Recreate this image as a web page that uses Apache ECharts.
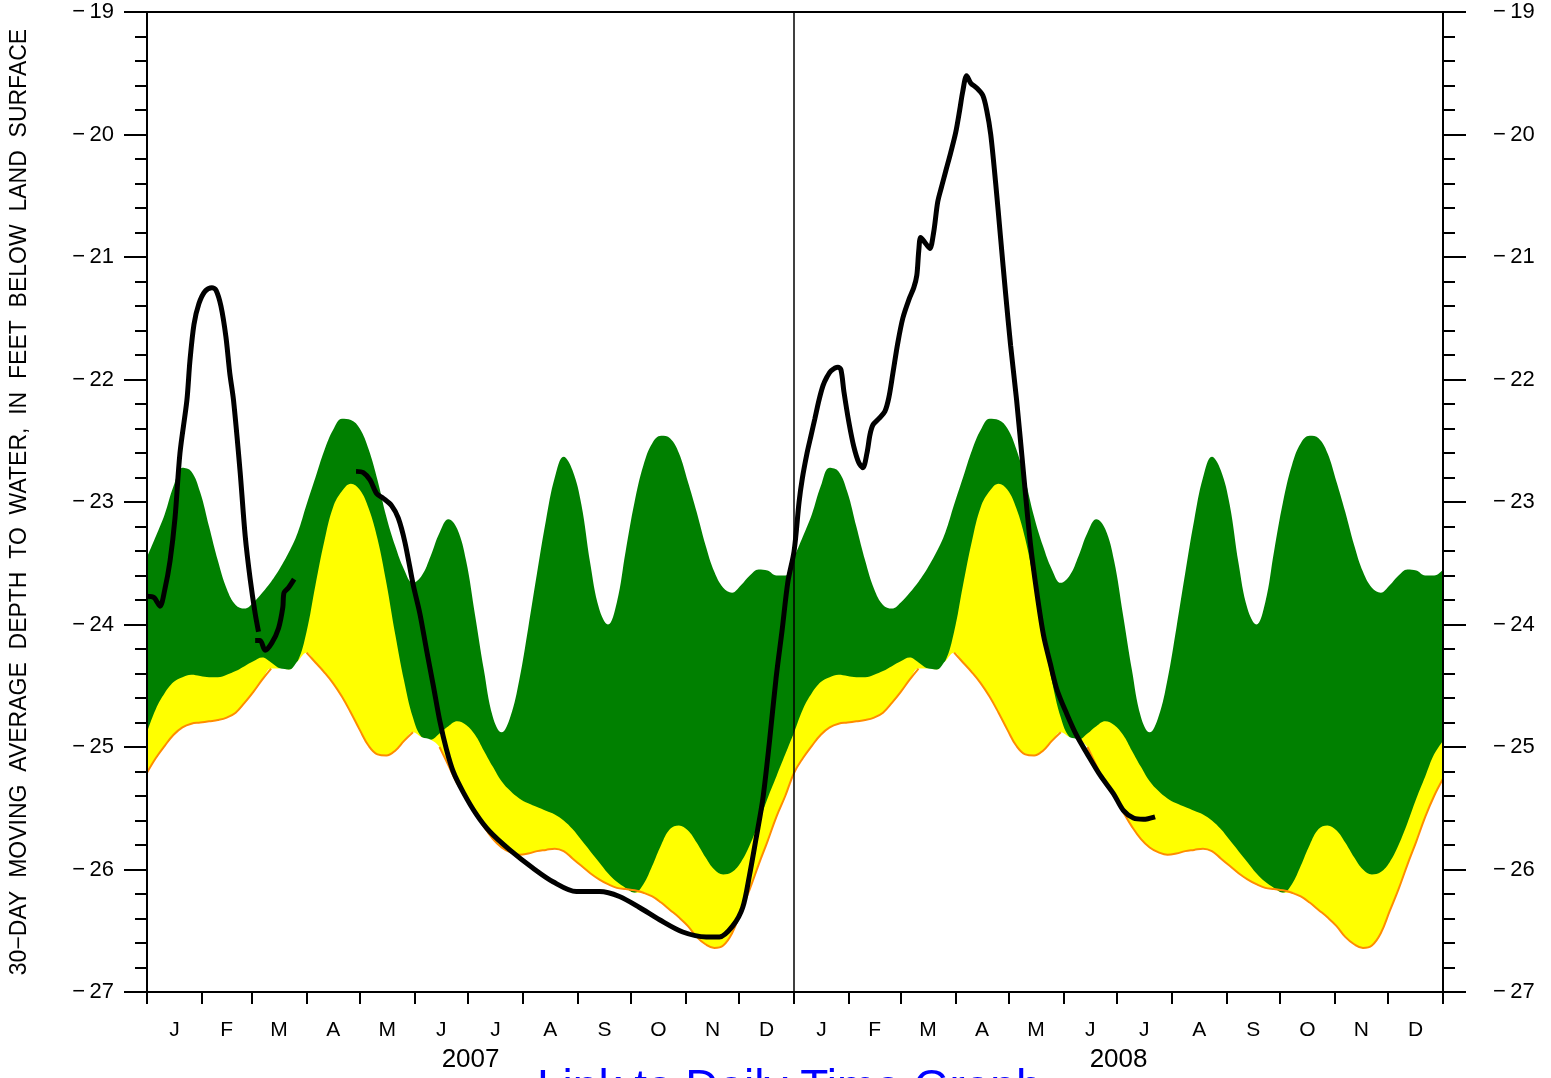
<!DOCTYPE html>
<html>
<head>
<meta charset="utf-8">
<script src="https://cdn.jsdelivr.net/npm/echarts@6/dist/echarts.min.js"></script>
<style>
  html, body { margin: 0; padding: 0; background: #fff; }
  #chart { width: 1551px; height: 1078px; }
</style>
</head>
<body>
<div id="chart"></div>
<script>
// Percentile envelope by day of year (same climatology drawn for 2007 and 2008).
const bandDays = [0, 5, 10, 15, 20, 25, 30, 35, 40, 45, 50, 55, 60, 65, 70, 75, 80, 85, 90, 95,
  100, 105, 110, 115, 120, 125, 130, 135, 140, 145, 150, 155, 160, 165, 170, 175, 180, 185, 190, 195,
  200, 205, 210, 215, 220, 225, 230, 235, 240, 245, 250, 255, 260, 265, 270, 275, 280, 285, 290, 295,
  300, 305, 310, 315, 320, 325, 330, 335, 340, 345, 350, 355, 360, 365];

// bottom of the yellow band (orange edge)
const bandLow = [-25.21, -25.09, -24.99, -24.90, -24.84, -24.81, -24.80, -24.79, -24.78, -24.76,
  -24.72, -24.64, -24.55, -24.45, -24.36, -24.29, -24.25, -24.22, -24.23, -24.31,
  -24.39, -24.48, -24.59, -24.72, -24.86, -24.99, -25.06, -25.07, -25.03, -24.95,
  -24.88, -24.87, -24.90, -25.00, -25.15, -25.30, -25.40, -25.53, -25.65, -25.75,
  -25.82, -25.86, -25.88, -25.87, -25.85, -25.84, -25.83, -25.85, -25.91, -25.97,
  -26.03, -26.08, -26.12, -26.15, -26.16, -26.17, -26.19, -26.22, -26.27, -26.33,
  -26.39, -26.46, -26.55, -26.61, -26.64, -26.62, -26.52, -26.34, -26.16, -25.96,
  -25.77, -25.57, -25.40, -25.26];

// top of the yellow band / bottom of the green band
const bandMid = [-24.88, -24.69, -24.56, -24.47, -24.43, -24.41, -24.42, -24.43, -24.43, -24.41,
  -24.38, -24.34, -24.30, -24.27, -24.31, -24.36, -24.37, -24.30, -24.06, -23.68,
  -23.32, -23.04, -22.91, -22.85, -22.90, -23.05, -23.30, -23.66, -24.08, -24.46,
  -24.76, -24.92, -24.94, -24.89, -24.83, -24.79, -24.82, -24.90, -25.03, -25.16,
  -25.28, -25.36, -25.42, -25.46, -25.49, -25.52, -25.55, -25.60, -25.67, -25.76,
  -25.85, -25.94, -26.03, -26.10, -26.15, -26.19, -26.12, -25.97, -25.80, -25.67,
  -25.64, -25.68, -25.78, -25.90, -26.00, -26.04, -26.02, -25.94, -25.80, -25.62,
  -25.42, -25.24, -25.06, -24.95];

// top of the green band
const bandHigh = [-23.45, -23.28, -23.10, -22.87, -22.72, -22.75, -22.92, -23.20, -23.48, -23.71,
  -23.84, -23.87, -23.82, -23.74, -23.65, -23.54, -23.41, -23.25, -23.02, -22.80,
  -22.58, -22.41, -22.32, -22.33, -22.40, -22.57, -22.82, -23.12, -23.36, -23.55,
  -23.66, -23.60, -23.44, -23.25, -23.14, -23.22, -23.48, -23.92, -24.37, -24.75,
  -24.88, -24.75, -24.45, -24.03, -23.58, -23.15, -22.80, -22.63, -22.74, -23.02,
  -23.50, -23.87, -24.00, -23.82, -23.40, -23.00, -22.70, -22.52, -22.46, -22.48,
  -22.60, -22.83, -23.08, -23.35, -23.57, -23.70, -23.74, -23.68, -23.60, -23.55,
  -23.56, -23.60, -23.60, -23.55];

// 30-day moving average, days since 2007-01-01 (null = gap in record)
const obsDay = [0, 3.9, 7.3, 10.1, 13.0, 15.8, 18.6, 22.5, 24.2, 26.5, 29.3, 32.7, 36.6, 38.9,
  41.7, 44.5, 46.7, 48.8, 52.5, 55.4, 58.2, 61.0, 62.9, 62.9,
  61.0, 63.8, 66.6, 70.4, 74.2, 76.6, 77.3, 79.8, 83.0, 83.0,
  117.9, 122.0, 125.8, 129.5, 133.3, 138.0, 141.7, 145.5, 150.2, 153.9, 157.7, 161.5, 165.2,
  168.9, 172.7, 178.4, 185.8, 193.3, 204.6, 217.8, 229.0, 242.2, 255.3, 266.5, 277.8, 289.1,
  302.2, 315.4, 322.9, 330.4, 336.0, 339.8, 343.5, 347.3, 351.0, 354.8, 358.2, 361.5, 365.0,
  367.8, 369.6, 372.3, 374.5, 376.7, 379.0, 381.3, 383.5, 385.8, 389.7, 391.4, 393.1, 395.9,
  398.7, 401.5, 403.8, 406.1, 407.8, 409.5, 412.8, 416.2, 418.4, 420.7, 423.5, 426.3, 429.7,
  432.5, 434.2, 435.3, 436.4, 438.7, 441.5, 443.7, 446.0, 448.3, 450.5, 453.3, 456.2, 458.4,
  460.1, 462.3, 464.6, 468.0, 471.4, 473.6, 475.9, 478.7, 481.5, 484.3, 487.1, 490.5, 494.3,
  498.2, 501.9, 505.7, 509.5, 513.2, 518.8, 524.5, 530.1, 537.6, 545.1, 550.8, 556.4, 562.0, 568.6];
const obsLevel = [-23.77, -23.78, -23.85, -23.71, -23.48, -23.13, -22.60, -22.17, -21.85, -21.55,
  -21.38, -21.28, -21.25, -21.27, -21.40, -21.65, -21.95, -22.17, -22.75, -23.28, -23.63, -23.91,
  -24.06, null,
  -24.13, -24.13, -24.21, -24.15, -24.03, -23.86, -23.74, -23.70, -23.63, null,
  -22.75, -22.76, -22.82, -22.93, -22.97, -23.03, -23.13, -23.33, -23.68, -23.91, -24.21, -24.50,
  -24.79, -25.02, -25.20, -25.37, -25.55, -25.69, -25.84, -25.99, -26.10, -26.18, -26.18, -26.22,
  -26.31, -26.41, -26.51, -26.55, -26.55, -26.46, -26.31, -26.05, -25.75, -25.43, -24.97, -24.44,
  -24.05, -23.65, -23.40, -23.00, -22.81, -22.60, -22.46, -22.32, -22.17, -22.05, -21.98, -21.93,
  -21.90, -21.92, -22.10, -22.35, -22.55, -22.68, -22.72, -22.60, -22.45, -22.37, -22.32, -22.26,
  -22.15, -21.95, -21.70, -21.50, -21.35, -21.25, -21.15, -20.95, -20.84, -20.88, -20.93, -20.80,
  -20.55, -20.42, -20.30, -20.15, -19.98, -19.80, -19.65, -19.52, -19.58, -19.62, -19.68, -19.80,
  -20.00, -20.40, -20.85, -21.30, -21.72, -22.17, -22.75, -23.33, -23.74, -24.09, -24.32, -24.53,
  -24.73, -24.91, -25.05, -25.23, -25.38, -25.52, -25.58, -25.59, -25.57];

const monthLetters = ['J', 'F', 'M', 'A', 'M', 'J', 'J', 'A', 'S', 'O', 'N', 'D'];
const monthStarts2007 = [0, 31, 59, 90, 120, 151, 181, 212, 243, 273, 304, 334, 365];
const monthStarts2008 = [0, 31, 60, 91, 121, 152, 182, 213, 244, 274, 305, 335, 366];
const years = ['2007', '2008'];
const yearStart = [0, 365];
const yearLength = [365, 366];

const axisTitle = '30\u2212DAY  MOVING  AVERAGE  DEPTH  TO  WATER,  IN  FEET  BELOW  LAND  SURFACE';
const linkText = 'Link to Daily Time Graph';

// Month boundary ticks and mid-month label positions on the day scale.
const tickDays = [];
const labelDays = [];
const labelText = {};
[monthStarts2007, monthStarts2008].forEach((starts, yi) => {
  starts.forEach((s, i) => {
    const day = yearStart[yi] + s;
    if (!tickDays.includes(day)) tickDays.push(day);
    if (i < 12) {
      const mid = yearStart[yi] + (s + starts[i + 1]) / 2;
      labelDays.push(mid);
      labelText[mid] = monthLetters[i];
    }
  });
});
const yearLabelDays = yearStart.map((s, i) => s + yearLength[i] / 2);
const yearText = {};
yearLabelDays.forEach((d, i) => { yearText[d] = years[i]; });

// Repeat the climatology across both years. Bands are painted top-down:
// green to the bottom, yellow over it, then a white mask below the lowest edge.
const greenTop = [], yellowTop = [], whiteTop = [], orangeEdge = [];
yearStart.forEach((start, yi) => {
  bandDays.forEach((d, i) => {
    if (yi === 0 && d === 365) return;
    const x = start + d * yearLength[yi] / 365;
    greenTop.push([x, bandHigh[i]]);
    yellowTop.push([x, bandMid[i]]);
    whiteTop.push([x, Math.min(bandLow[i], bandMid[i])]);
    orangeEdge.push([x, bandLow[i] <= bandMid[i] + 0.02 ? bandLow[i] : null]);
  });
});

const obsData = obsDay.map((d, i) => [d, obsLevel[i]]);

const chart = echarts.init(document.getElementById('chart'));
const black = '#000';
const font = '"Liberation Sans", Arial, Helvetica, sans-serif';

function levelLabel(v) {
  return '\u2212\u2009' + Math.abs(v);
}

function yAxisFor(position, margin) {
  return {
    type: 'value',
    position: position,
    min: -27,
    max: -19,
    interval: 1,
    z: 10,
    axisLine: { show: true, onZero: false, lineStyle: { color: black, width: 2 } },
    axisTick: { show: true, inside: false, length: 23, lineStyle: { color: black, width: 2 } },
    minorTick: { show: true, splitNumber: 5, length: 12, lineStyle: { color: black, width: 2 } },
    minorSplitLine: { show: false },
    splitLine: { show: false },
    axisLabel: {
      margin: margin,
      fontSize: 22,
      color: black,
      fontFamily: font,
      formatter: levelLabel,
    },
  };
}

const leftAxis = yAxisFor('left', 33);
leftAxis.name = axisTitle;
leftAxis.nameLocation = 'middle';
leftAxis.nameRotate = 90;
leftAxis.nameGap = 116;
leftAxis.nameTextStyle = { fontSize: 23, color: black, fontFamily: font };

function band(name, data, color, z) {
  return {
    name: name,
    type: 'line',
    data: data,
    smooth: 0.4,
    symbol: 'none',
    lineStyle: { width: 0, opacity: 0 },
    areaStyle: { color: color, opacity: 1, origin: 'start' },
    z: z,
  };
}

chart.setOption({
  animation: false,
  backgroundColor: '#fff',
  textStyle: { fontFamily: font },
  title: {
    text: linkText,
    left: 537,
    top: 1066,
    padding: 0,
    textStyle: { fontSize: 46, fontWeight: 'normal', color: '#0000ff', fontFamily: font },
  },
  grid: {
    left: 145,
    right: 108,
    top: 12,
    bottom: 86,
    show: true,
    borderColor: black,
    borderWidth: 2,
    backgroundColor: 'transparent',
  },
  xAxis: [
    {
      type: 'value',
      min: 0,
      max: 731,
      position: 'bottom',
      z: 10,
      axisLine: { show: true, onZero: false, lineStyle: { color: black, width: 2 } },
      axisTick: { show: true, inside: false, length: 12, customValues: tickDays, lineStyle: { color: black, width: 2 } },
      splitLine: { show: false },
      axisLabel: {
        customValues: labelDays,
        formatter: (v) => labelText[v] || '',
        margin: 28,
        fontSize: 21,
        color: black,
        fontFamily: font,
      },
    },
    {
      type: 'value',
      min: 0,
      max: 731,
      position: 'bottom',
      axisLine: { show: false },
      axisTick: { show: false },
      splitLine: { show: false },
      axisLabel: {
        customValues: yearLabelDays,
        formatter: (v) => yearText[v] || '',
        margin: 55,
        fontSize: 26,
        color: black,
        fontFamily: font,
      },
    },
  ],
  yAxis: [leftAxis, yAxisFor('right', 50)],
  series: [
    band('75th percentile', greenTop, '#008000', 1),
    band('25th percentile', yellowTop, '#ffff00', 2),
    band('lowest', whiteTop, '#ffffff', 3),
    {
      name: 'lowest edge',
      type: 'line',
      data: orangeEdge,
      connectNulls: false,
      smooth: 0.4,
      symbol: 'none',
      lineStyle: { color: '#ff8c00', width: 2 },
      z: 4,
    },
    {
      name: '30-day moving average',
      type: 'line',
      data: obsData,
      connectNulls: false,
      smooth: 0.3,
      symbol: 'none',
      lineStyle: { color: black, width: 5 },
      z: 5,
      markLine: {
        silent: true,
        symbol: ['none', 'none'],
        label: { show: false },
        lineStyle: { color: black, width: 1.5, type: 'solid' },
        data: [{ xAxis: 365 }],
      },
    },
  ],
});
</script>
</body>
</html>
